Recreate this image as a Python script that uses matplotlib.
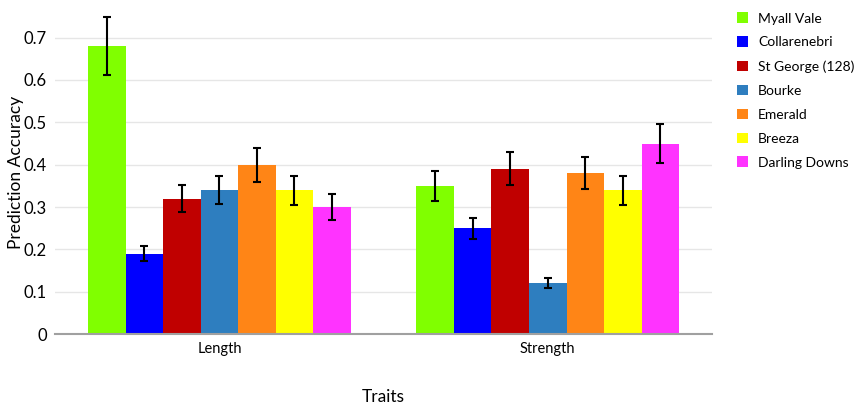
import numpy as np
import matplotlib.pyplot as plt

traits = ["Length", "Strength"]
sites = ["Myall Vale", "Collarenebri", "St George (128)", "Bourke",
         "Emerald", "Breeza", "Darling Downs"]
colors = ["#80ff00", "#0000ff", "#c00000", "#2e7ebf",
          "#ff8516", "#ffff00", "#ff33ff"]

# accuracy per site, [Length, Strength]
accuracy = [
    [0.68, 0.35],
    [0.19, 0.25],
    [0.32, 0.39],
    [0.34, 0.12],
    [0.40, 0.38],
    [0.34, 0.34],
    [0.30, 0.45],
]
errors = [
    [0.068, 0.035],
    [0.018, 0.025],
    [0.032, 0.039],
    [0.033, 0.012],
    [0.040, 0.038],
    [0.034, 0.034],
    [0.030, 0.045],
]

plt.rcParams['font.family'] = ['Lato', 'DejaVu Sans']

fig = plt.figure(figsize=(8.63, 4.04), dpi=100)
ax = fig.add_axes([0.064, 0.173, 0.761, 0.802])

x = np.arange(len(traits))
n = len(sites)
group_w = 0.8
w = group_w / n
for i, (site, col) in enumerate(zip(sites, colors)):
    pos = x - group_w / 2 + w * (i + 0.5)
    ax.bar(pos, accuracy[i], width=w, color=col, label=site, zorder=2)
    ax.errorbar(pos, accuracy[i], yerr=errors[i], fmt='none', ecolor='black',
                elinewidth=1.5, capsize=3, capthick=1.5, zorder=3)

ax.set_xlim(-0.5, 1.5)
ax.set_ylim(0, 0.765)
ax.set_yticks([0, 0.1, 0.2, 0.3, 0.4, 0.5, 0.6, 0.7])
ax.set_yticklabels(["0", "0.1", "0.2", "0.3", "0.4", "0.5", "0.6", "0.7"], fontsize=12)
ax.set_xticks(x)
ax.set_xticklabels(traits, fontsize=10.5)
ax.tick_params(axis='both', length=0, pad=6)
ax.yaxis.grid(True, color='#e6e6e6', linewidth=1, zorder=0)
ax.set_axisbelow(True)
for s in ['top', 'right', 'left']:
    ax.spines[s].set_visible(False)
ax.spines['bottom'].set_color('#a0a0a0')
ax.spines['bottom'].set_linewidth(1.5)

ax.set_ylabel("Prediction Accuracy", fontsize=12.5)
ax.yaxis.set_label_coords(-0.047, 0.5)
ax.set_xlabel("Traits", fontsize=12.5)
ax.xaxis.set_label_coords(0.5, -0.17)

ax.legend(loc='upper left', bbox_to_anchor=(1.03, 1.01), frameon=False,
          fontsize=10, handlelength=0.8, handleheight=0.8,
          labelspacing=0.85, handletextpad=0.7, borderaxespad=0)

fig.savefig("out.png", dpi=100)
